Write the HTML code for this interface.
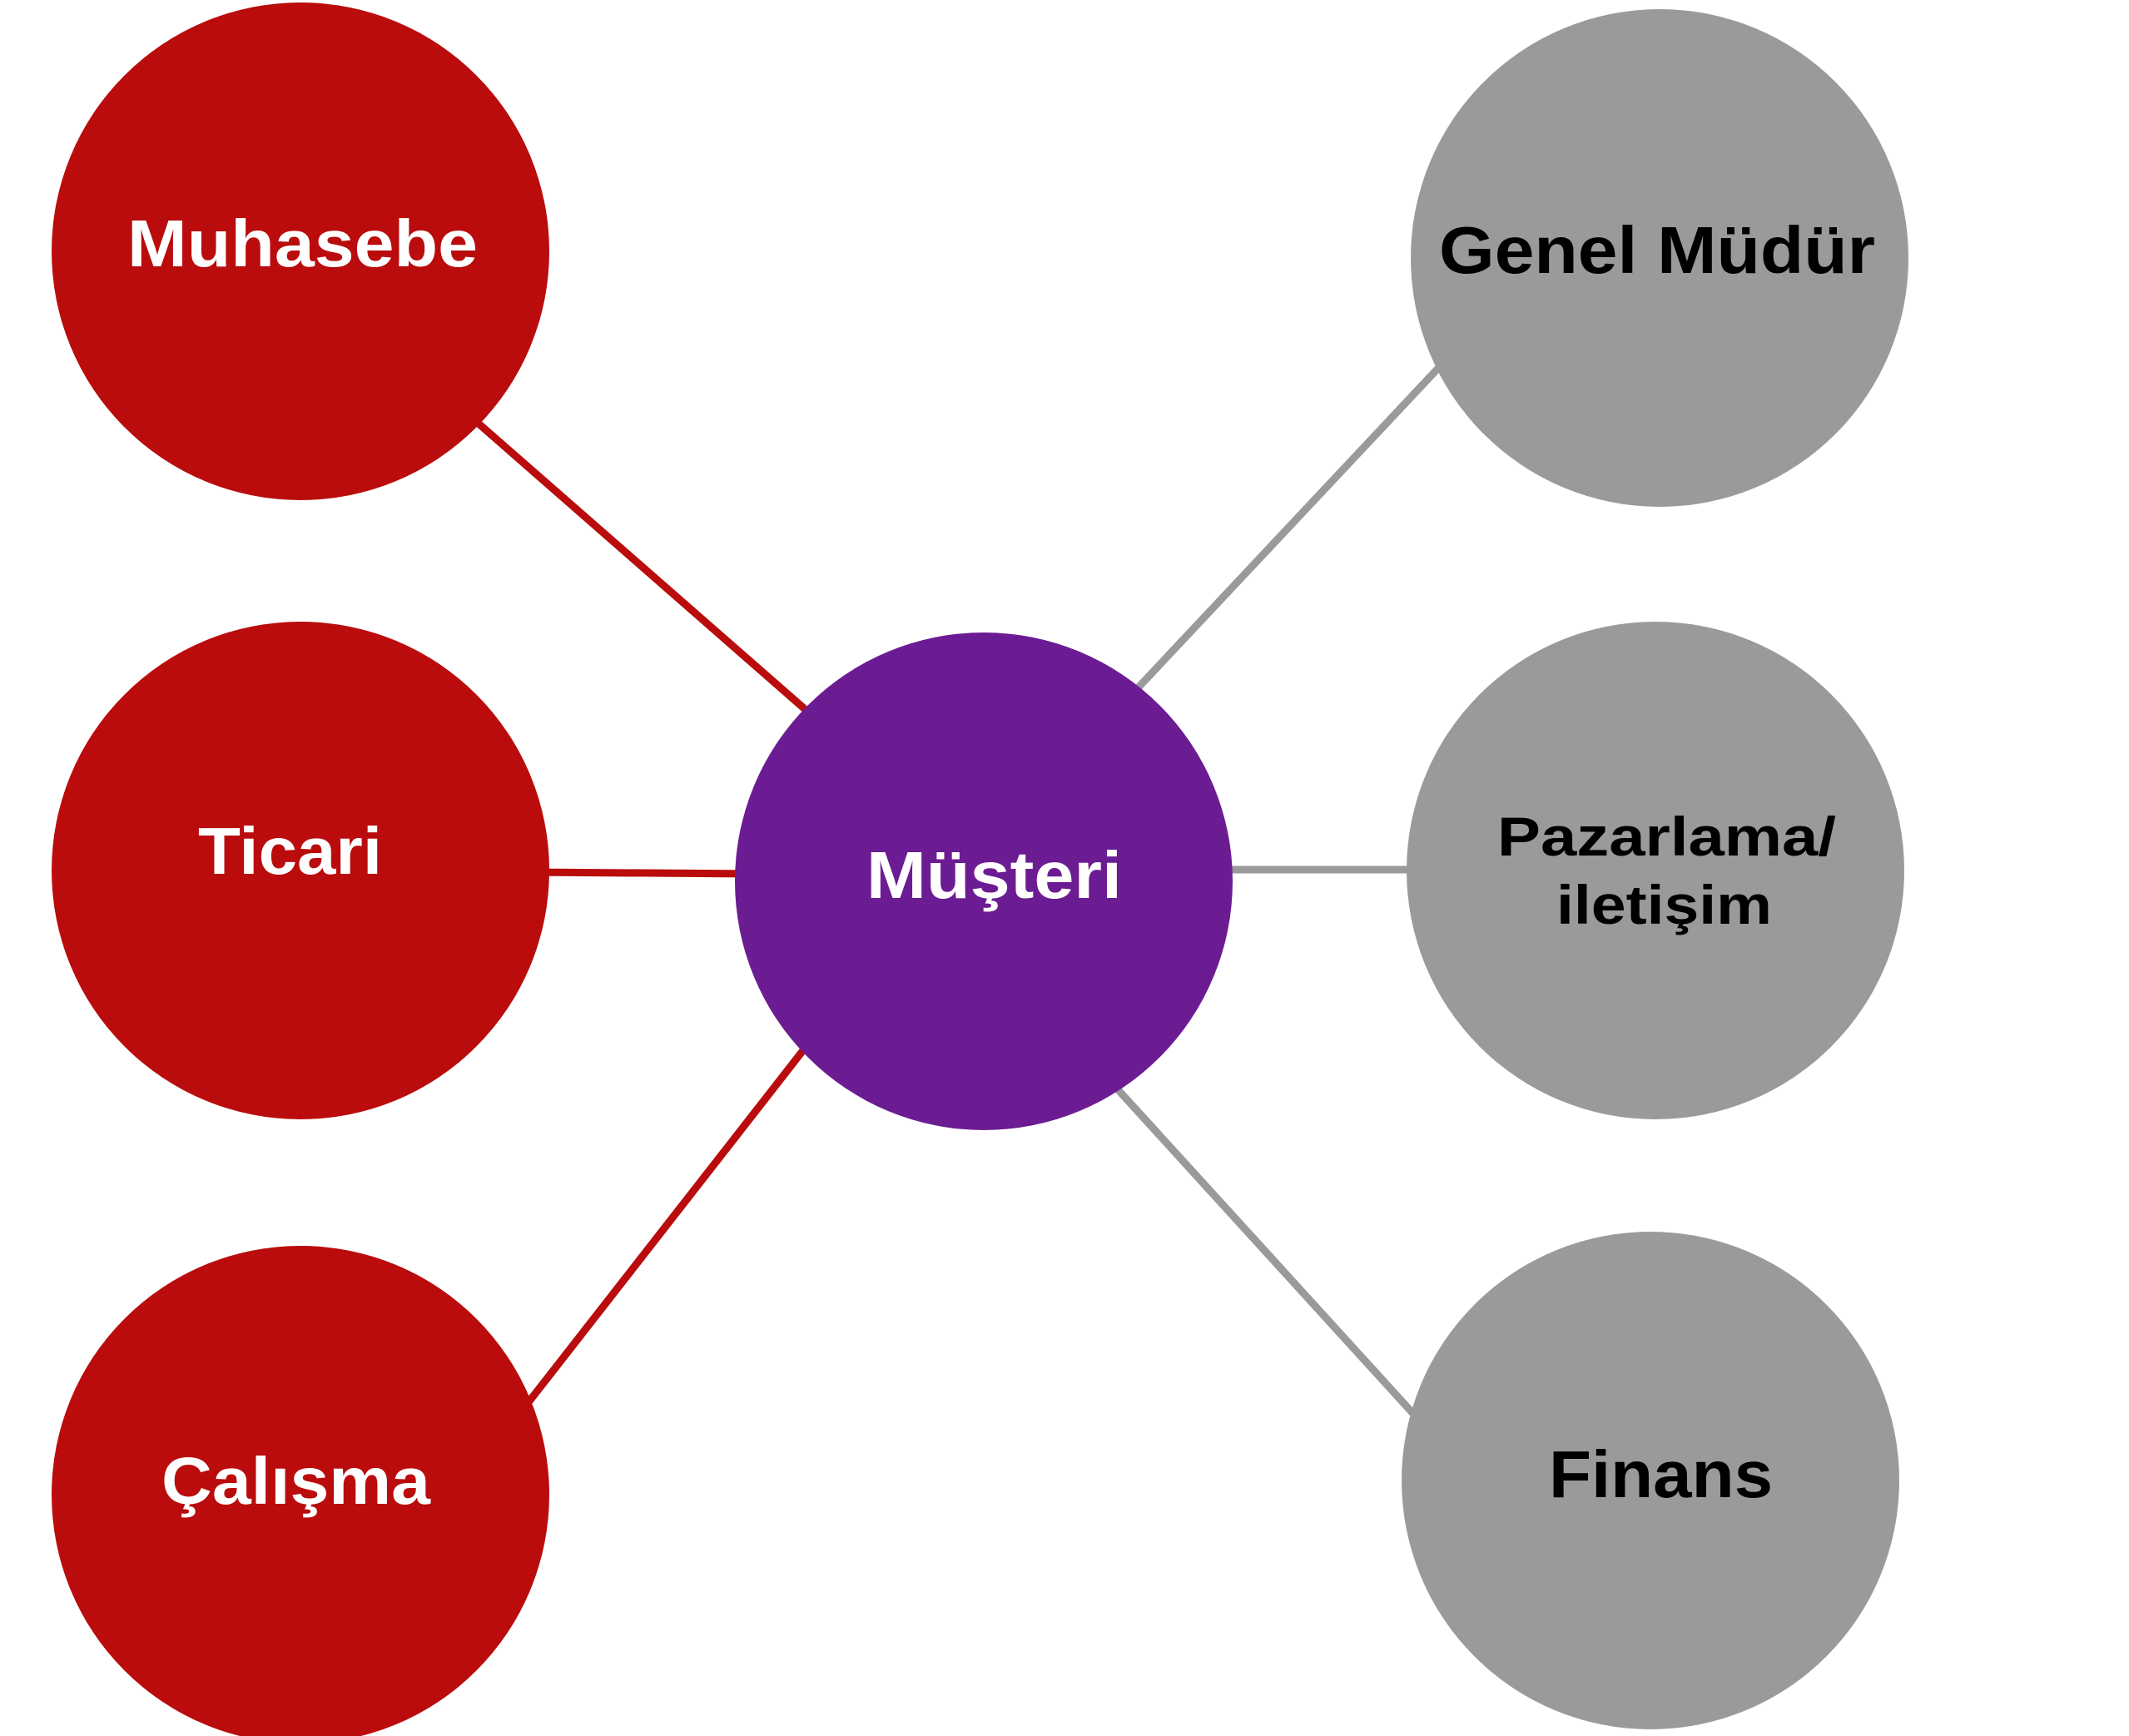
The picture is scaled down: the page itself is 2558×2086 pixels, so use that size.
<!DOCTYPE html>
<html><head><meta charset="utf-8"><style>html,body{margin:0;padding:0;background:#fff}svg{display:block}</style></head>
<body>
<svg width="2558" height="2086" viewBox="0 0 2558 2086" xmlns="http://www.w3.org/2000/svg">
<g stroke-width="9">
<line x1="535" y1="474" x2="1007" y2="887" stroke="#BA0C0C"/>
<line x1="361" y1="1046" x2="1182" y2="1052" stroke="#BA0C0C"/>
<line x1="603" y1="1726" x2="997" y2="1221" stroke="#BA0C0C"/>
<line x1="1333" y1="863" x2="1765" y2="403" stroke="#9A9A9A"/>
<line x1="1182" y1="1045" x2="1989" y2="1045" stroke="#9A9A9A"/>
<line x1="1311" y1="1274" x2="1732" y2="1736" stroke="#9A9A9A"/>
</g>
<circle cx="361" cy="302" r="299" fill="#BA0C0C"/>
<circle cx="361" cy="1046" r="299" fill="#BA0C0C"/>
<circle cx="361" cy="1796" r="299" fill="#BA0C0C"/>
<circle cx="1182" cy="1059" r="299" fill="#6C1C93"/>
<circle cx="1994" cy="310" r="299" fill="#9A9A9A"/>
<circle cx="1989" cy="1046" r="299" fill="#9A9A9A"/>
<circle cx="1983" cy="1779" r="299" fill="#9A9A9A"/>
<g font-family="Liberation Sans, sans-serif" font-weight="bold" font-size="80">
<text x="153" y="320" textLength="421" lengthAdjust="spacingAndGlyphs" fill="#fff">Muhasebe</text>
<text x="238" y="1050" textLength="221" lengthAdjust="spacingAndGlyphs" fill="#fff">Ticari</text>
<text x="194" y="1807" textLength="323" lengthAdjust="spacingAndGlyphs" fill="#fff">Çalışma</text>
<text x="1041" y="1079" textLength="307" lengthAdjust="spacingAndGlyphs" fill="#fff">Müşteri</text>
<text x="1729" y="328" textLength="524" lengthAdjust="spacingAndGlyphs" fill="#000">Genel Müdür</text>
<text x="1861" y="1799" textLength="269" lengthAdjust="spacingAndGlyphs" fill="#000">Finans</text>
<text x="1799" y="1028" font-size="66" textLength="407" lengthAdjust="spacingAndGlyphs" fill="#000">Pazarlama/</text>
<text x="1870" y="1110" font-size="66" textLength="259" lengthAdjust="spacingAndGlyphs" fill="#000">iletişim</text>
</g>
</svg>
</body></html>
